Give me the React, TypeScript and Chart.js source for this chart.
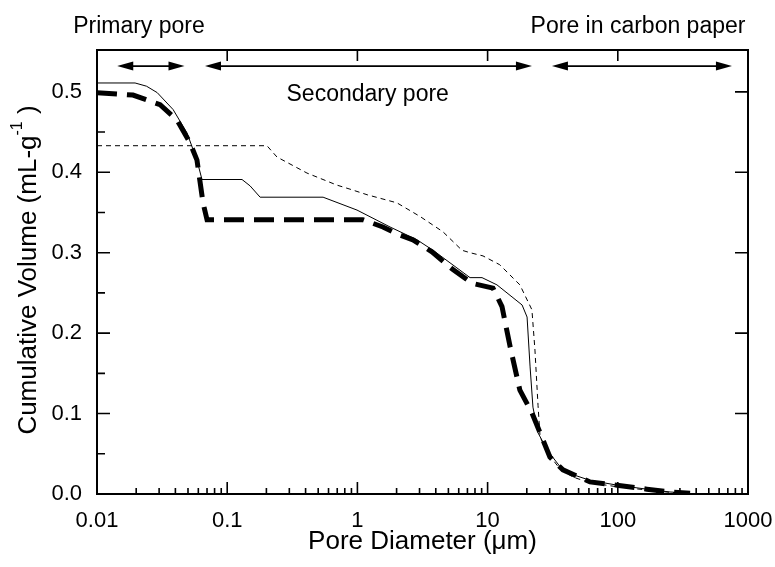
import React, { useEffect, useRef } from 'react';
import { Chart, registerables } from 'chart.js';

Chart.register(...registerables);

// Solid thin line
const solidDiameter = [0.01, 0.0196, 0.024, 0.029, 0.0384, 0.0491, 0.0586, 0.064, 0.13, 0.15, 0.179, 0.545, 0.993, 1.78, 2.87, 3.81, 5.82, 7.33, 9.06, 11.8, 18.4, 20.1, 21.2, 22.3, 24.4, 28.6, 36.0, 45.3, 61.1, 98.6, 167, 252, 359];
const solidVolume = [0.511, 0.511, 0.507, 0.499, 0.478, 0.449, 0.415, 0.391, 0.391, 0.383, 0.369, 0.369, 0.353, 0.332, 0.316, 0.303, 0.281, 0.269, 0.269, 0.26, 0.235, 0.22, 0.158, 0.108, 0.076, 0.055, 0.034, 0.024, 0.017, 0.011, 0.006, 0.0025, 0.001];

// Thin dashed line
const thinDashDiameter = [0.01, 0.202, 0.241, 0.41, 0.697, 0.877, 1.19, 2.01, 3.03, 4.54, 6.36, 7.33, 9.22, 12.4, 17.7, 21.9, 23.1, 24.4, 25.3, 28.6, 36, 45.3, 61.1, 98.6, 167, 252, 359];
const thinDashVolume = [0.433, 0.433, 0.419, 0.399, 0.384, 0.379, 0.372, 0.362, 0.345, 0.326, 0.303, 0.3, 0.296, 0.285, 0.26, 0.229, 0.179, 0.11, 0.071, 0.052, 0.031, 0.021, 0.014, 0.009, 0.005, 0.002, 0.001];

// Thick dashed line
const thickDashDiameter = [0.01, 0.0189, 0.0305, 0.0411, 0.0517, 0.0586, 0.0652, 0.07, 1.1, 1.57, 2.12, 2.67, 3.74, 5.42, 7.59, 11.0, 12.9, 14.9, 17.7, 21.9, 25.3, 30.1, 37.9, 61.1, 98.6, 167, 252, 359];
const thickDashVolume = [0.499, 0.496, 0.484, 0.465, 0.437, 0.415, 0.362, 0.341, 0.341, 0.332, 0.322, 0.316, 0.301, 0.279, 0.262, 0.256, 0.233, 0.183, 0.129, 0.101, 0.076, 0.046, 0.03, 0.015, 0.011, 0.006, 0.0025, 0.001];

const xTickValues = [0.01, 0.1, 1, 10, 100, 1000];
const xTickLabels = ['0.01', '0.1', '1', '10', '100', '1000'];
const yTickValues = [0, 0.1, 0.2, 0.3, 0.4, 0.5];
const yTickLabels = ['0.0', '0.1', '0.2', '0.3', '0.4', '0.5'];
const yMinorValues = [0.05, 0.15, 0.25, 0.35, 0.45];

const arrowStarts = [0.0143, 0.0675, 31.2];
const arrowEnds = [0.047, 21.9, 753];
const arrowLevel = 0.532;

const noteTexts = ['Primary pore', 'Secondary pore', 'Pore in carbon paper'];
const noteX = [0.021, 1.2, 143];
const noteY = [0.573, 0.489, 0.573];

const xTitle = 'Pore Diameter (\u03bcm)';
const yTitleMain = 'Cumulative Volume (mL-g';
const yTitleSup = '-1';
const yTitleEnd = ' )';

const FONT = '"Liberation Sans", Arial, Helvetica, sans-serif';
const TICK_FONT = '22px ' + FONT;
const NOTE_FONT = '23px ' + FONT;
const TITLE_FONT = '26px ' + FONT;
const SUP_FONT = '16px ' + FONT;

const toPoints = (xs: number[], ys: number[]) => xs.map((x, i) => ({ x, y: ys[i] }));

const framePlugin = {
  id: 'framePlugin',
  afterDraw(chart: any) {
    const ctx = chart.ctx as CanvasRenderingContext2D;
    const xs = chart.scales.x;
    const ys = chart.scales.y;
    const a = chart.chartArea;
    ctx.save();
    ctx.strokeStyle = '#000';
    ctx.fillStyle = '#000';
    ctx.lineWidth = 2;
    ctx.strokeRect(a.left, a.top, a.right - a.left, a.bottom - a.top);

    // bottom ticks
    ctx.lineWidth = 1.6;
    ctx.beginPath();
    for (let e = -2; e < 3; e++) {
      for (let m = 1; m <= 9; m++) {
        if (m === 1 && e === -2) continue;
        const v = m * Math.pow(10, e);
        const px = xs.getPixelForValue(v);
        const len = m === 1 ? 12 : 6;
        ctx.moveTo(px, a.bottom);
        ctx.lineTo(px, a.bottom - len);
      }
    }
    // top major ticks
    for (let i = 1; i < xTickValues.length - 1; i++) {
      const px = xs.getPixelForValue(xTickValues[i]);
      ctx.moveTo(px, a.top);
      ctx.lineTo(px, a.top + 11);
    }
    // left + right ticks
    for (let i = 1; i < yTickValues.length; i++) {
      const py = ys.getPixelForValue(yTickValues[i]);
      ctx.moveTo(a.left, py);
      ctx.lineTo(a.left + 13, py);
      ctx.moveTo(a.right, py);
      ctx.lineTo(a.right - 13, py);
    }
    for (const v of yMinorValues) {
      const py = ys.getPixelForValue(v);
      ctx.moveTo(a.left, py);
      ctx.lineTo(a.left + 8, py);
    }
    ctx.stroke();

    // tick labels
    ctx.font = TICK_FONT;
    ctx.textAlign = 'center';
    ctx.textBaseline = 'middle';
    xTickValues.forEach((v, i) => {
      ctx.fillText(xTickLabels[i], xs.getPixelForValue(v), a.bottom + 27);
    });
    ctx.textAlign = 'right';
    yTickValues.forEach((v, i) => {
      ctx.fillText(yTickLabels[i], a.left - 15, ys.getPixelForValue(v));
    });

    // axis titles
    ctx.font = TITLE_FONT;
    ctx.textAlign = 'center';
    ctx.fillText(xTitle, (a.left + a.right) / 2, a.bottom + 48);
    ctx.save();
    ctx.translate(29, (a.top + a.bottom) / 2 - 2);
    ctx.rotate(-Math.PI / 2);
    ctx.font = TITLE_FONT;
    const w1 = ctx.measureText(yTitleMain).width;
    ctx.font = SUP_FONT;
    const w2 = ctx.measureText(yTitleSup).width;
    ctx.font = TITLE_FONT;
    const w3 = ctx.measureText(yTitleEnd).width;
    let sx = -(w1 + w2 + w3) / 2;
    ctx.textAlign = 'left';
    ctx.fillText(yTitleMain, sx, 0);
    sx += w1;
    ctx.font = SUP_FONT;
    ctx.fillText(yTitleSup, sx, -11);
    sx += w2;
    ctx.font = TITLE_FONT;
    ctx.fillText(yTitleEnd, sx, 0);
    ctx.restore();

    // arrows
    const ay = ys.getPixelForValue(arrowLevel);
    ctx.lineWidth = 1.6;
    arrowStarts.forEach((s, i) => {
      const x1 = xs.getPixelForValue(s);
      const x2 = xs.getPixelForValue(arrowEnds[i]);
      ctx.beginPath();
      ctx.moveTo(x1 + 8, ay);
      ctx.lineTo(x2 - 8, ay);
      ctx.stroke();
      ctx.beginPath();
      ctx.moveTo(x1, ay);
      ctx.lineTo(x1 + 16, ay - 4.5);
      ctx.lineTo(x1 + 16, ay + 4.5);
      ctx.closePath();
      ctx.fill();
      ctx.beginPath();
      ctx.moveTo(x2, ay);
      ctx.lineTo(x2 - 16, ay - 4.5);
      ctx.lineTo(x2 - 16, ay + 4.5);
      ctx.closePath();
      ctx.fill();
    });

    // notes
    ctx.font = NOTE_FONT;
    ctx.textAlign = 'center';
    ctx.textBaseline = 'alphabetic';
    noteTexts.forEach((t, i) => {
      ctx.fillText(t, xs.getPixelForValue(noteX[i]), ys.getPixelForValue(noteY[i]));
    });
    ctx.restore();
  },
};

export default function App() {
  const ref = useRef<HTMLCanvasElement | null>(null);
  useEffect(() => {
    document.body.style.margin = '0';
    const canvas = ref.current;
    if (!canvas) return;
    const chart = new Chart(canvas, {
      type: 'line',
      data: {
        datasets: [
          {
            label: 'solid',
            data: toPoints(solidDiameter, solidVolume),
            borderColor: '#000',
            borderWidth: 1,
            pointRadius: 0,
            tension: 0,
          },
          {
            label: 'thin dashed',
            data: toPoints(thinDashDiameter, thinDashVolume),
            borderColor: '#000',
            borderWidth: 1,
            borderDash: [5, 4],
            pointRadius: 0,
            tension: 0,
          },
          {
            label: 'thick dashed',
            data: toPoints(thickDashDiameter, thickDashVolume),
            borderColor: '#000',
            borderWidth: 5,
            borderDash: [20, 10],
            pointRadius: 0,
            tension: 0,
          },
        ],
      },
      options: {
        responsive: false,
        animation: false,
        devicePixelRatio: 1,
        layout: { padding: { left: 97, right: 27, top: 50, bottom: 73 } },
        plugins: { legend: { display: false }, title: { display: false }, tooltip: { enabled: false } },
        scales: {
          x: { type: 'logarithmic', min: 0.01, max: 1000, display: false },
          y: { type: 'linear', min: 0, max: 0.552, display: false },
        },
      },
      plugins: [framePlugin],
    });
    return () => chart.destroy();
  }, []);
  return (
    <canvas
      ref={ref}
      width={775}
      height={567}
      style={{ position: 'absolute', left: 0, top: 0, width: 775, height: 567 }}
    />
  );
}
